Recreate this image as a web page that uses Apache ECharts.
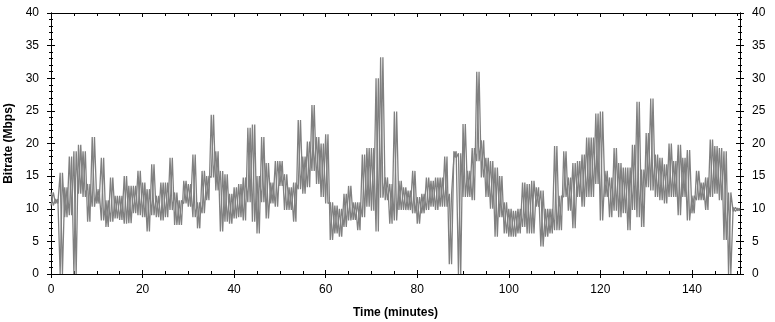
<!DOCTYPE html>
<html>
<head>
<meta charset="utf-8">
<script src="https://cdn.jsdelivr.net/npm/echarts@6/dist/echarts.min.js"></script>
<style>
  html, body { margin: 0; padding: 0; background: #fff; }
  #chart { width: 775px; height: 322px; }
</style>
</head>
<body>
<div id="chart"></div>
<script>
// per-minute envelope of the bitrate trace (Mbps)
const hiVals = [12.5, 11.5, 15.5, 13.3, 18, 18.8, 19.8, 18.8, 13.8, 21,
  13, 17.8, 11.3, 14.8, 12, 12, 15, 13.5, 13.5, 15.8,
  14, 13, 16.8, 12, 14, 14, 17.8, 12.5, 11.3, 14.3,
  13.8, 18.3, 11, 15.8, 15, 24.4, 18.8, 15.8, 15.3, 12.3,
  13.3, 13.8, 14.8, 22.4, 22.9, 15, 21, 17, 14, 17.3,
  17.3, 15.3, 13.3, 14, 23.6, 18, 20.3, 25.9, 21, 20,
  21.4, 11, 10.5, 10, 12.3, 13.5, 11, 11, 18.3, 19.3,
  19.3, 30, 33.2, 14.8, 13.8, 24.9, 14.3, 13.3, 12.8, 15.8,
  11.8, 12.3, 14.8, 14.3, 14.8, 14.8, 18, 12.3, 18.8, 18.5,
  23, 15.8, 19.3, 31, 20.5, 17.8, 17.3, 16.3, 15, 11,
  10, 9.7, 10, 14, 13.8, 14.3, 13.3, 12.8, 10, 10,
  19.6, 12, 18.8, 14.8, 17, 17.3, 18.3, 20.9, 20.9, 24.6,
  24.9, 15.8, 14.8, 19.3, 17, 16.3, 16.3, 19.8, 26.4, 16,
  21.6, 26.9, 18.3, 17.8, 16.8, 20, 17.3, 19.8, 17.8, 19,
  12, 15.8, 14, 14.8, 20.6, 19.6, 19.3, 18.8, 12.5, 10.2,
  10.1];
const loVals = [10.5, 10.8, 0, 8.7, 9, 0, 12.3, 11.8, 8, 10.3,
  10.8, 8.2, 7.2, 8, 8.5, 8.3, 7.7, 7.8, 9.3, 9,
  8.7, 6.5, 9, 8.7, 8.2, 8.7, 9.8, 7.5, 7.5, 10.8,
  10.3, 8.7, 7, 9.3, 11.3, 14.8, 12.8, 6.5, 8, 7.7,
  8.5, 8.7, 8.2, 11, 8, 6.2, 11, 8.5, 10.8, 10.3,
  13.5, 9.8, 9.8, 8, 13, 12.3, 13.3, 15.8, 13.8, 11.8,
  10.8, 5.2, 6.2, 5.7, 7.2, 8.2, 8.3, 6.7, 8.7, 10.3,
  9.7, 6.5, 11.7, 11.3, 7.7, 8.2, 9.8, 9.8, 9.8, 9.3,
  7.7, 9.3, 9.8, 10.3, 9.8, 10.3, 10.3, 1.5, 17.8, 0,
  11.8, 11.8, 11.3, 17.3, 14.8, 11.8, 10, 5.7, 8.7, 6.2,
  5.7, 5.7, 6.2, 7.2, 6.2, 6.2, 10.3, 4.2, 5.7, 6.2,
  6.7, 6.7, 11.8, 9.7, 7, 11.8, 10.3, 11.8, 11.8, 13.8,
  8.2, 11.8, 8.7, 9.7, 8.7, 9.3, 6.7, 9.8, 8.7, 7.2,
  13.3, 12.8, 11.8, 11.3, 10.8, 11.8, 11.8, 9, 11.8, 8.2,
  9.3, 11.3, 11.3, 9.8, 11.8, 12.3, 11.3, 5.2, 0, 9.6,
  9.7];

const xMax = 150.5;
const yTicks = [0, 5, 10, 15, 20, 25, 30, 35, 40];

// two opposite-phase zigzags through each minute's high/low make a dense band
const traceA = [];
const traceB = [];
for (let i = 0; i < hiVals.length; i++) {
  traceA.push([i, hiVals[i]]);
  traceA.push([i + 0.5, loVals[i]]);
  traceB.push([i, loVals[i]]);
  traceB.push([i + 0.5, hiVals[i]]);
}

const font = 'Liberation Sans, Arial, sans-serif';
const black = '#000';

function xAx(pos, inside, opts) {
  return Object.assign({
    type: 'value', position: pos, min: 0, max: xMax, interval: 20,
    axisLine: { show: true, onZero: false, lineStyle: { color: black, width: 1 } },
    axisTick: { show: true, inside: inside, length: 4, lineStyle: { color: black } },
    minorTick: { show: inside, splitNumber: 4, length: 3, lineStyle: { color: black } },
    axisLabel: { show: false },
    splitLine: { show: false }
  }, opts || {});
}
function yAx(pos, inside, opts) {
  return Object.assign({
    type: 'value', position: pos, min: 0, max: 40, interval: 5,
    axisLine: { show: true, onZero: false, lineStyle: { color: black, width: 1 } },
    axisTick: { show: true, inside: inside, length: 4, lineStyle: { color: black } },
    minorTick: { show: true, splitNumber: 5, length: 2, lineStyle: { color: black } },
    axisLabel: { show: false },
    splitLine: { show: false }
  }, opts || {});
}

function trace(data) {
  return {
    type: 'line',
    xAxisIndex: 0,
    yAxisIndex: 0,
    data: data,
    showSymbol: false,
    sampling: 'none',
    lineStyle: { color: '#808080', width: 1.3 },
    emphasis: { disabled: true }
  };
}

const chart = echarts.init(document.getElementById('chart'));
chart.setOption({
  animation: false,
  backgroundColor: '#fff',
  textStyle: { fontFamily: font },
  grid: { left: 51, right: 35, top: 13, bottom: 48, containLabel: false, outerBoundsMode: 'none' },
  xAxis: [
    xAx('bottom', false, {
      minorTick: { show: false },
      axisLabel: { show: true, showMaxLabel: false, margin: 10, color: black, fontSize: 12, fontFamily: font },
      name: 'Time (minutes)', nameLocation: 'middle', nameGap: 33,
      nameTextStyle: { color: black, fontWeight: 'bold', fontSize: 12, fontFamily: font }
    }),
    xAx('bottom', true),
    xAx('top', true)
  ],
  yAxis: [
    yAx('left', false, {
      axisLabel: {
        show: true, margin: 12, color: black, fontSize: 12, fontFamily: font,
        formatter: v => (yTicks.indexOf(v) >= 0 ? String(v) : '')
      },
      name: 'Bitrate (Mbps)', nameLocation: 'middle', nameGap: 33,
      nameTextStyle: { color: black, fontWeight: 'bold', fontSize: 12, fontFamily: font }
    }),
    yAx('left', true),
    yAx('right', false, {
      axisLabel: { show: true, margin: 12, color: black, fontSize: 12, fontFamily: font }
    }),
    yAx('right', true)
  ],
  series: [trace(traceA), trace(traceB)]
});
</script>
</body>
</html>
